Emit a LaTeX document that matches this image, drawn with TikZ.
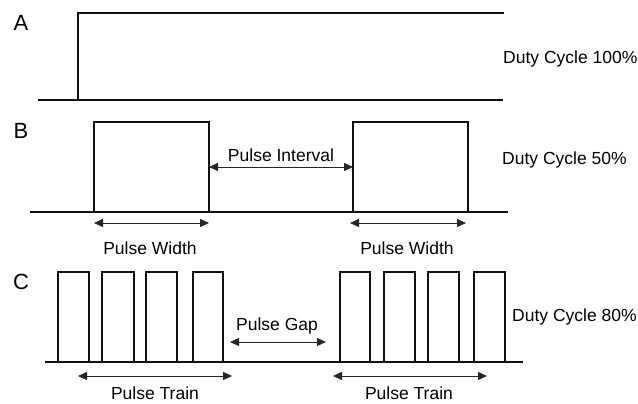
\documentclass[tikz,border=0pt]{standalone}
\usepackage{fontspec}
\setmainfont{Liberation Sans}
\usepackage{xcolor}
\definecolor{wave}{HTML}{111111}
\usetikzlibrary{arrows.meta, positioning, calc}

\begin{document}
\begin{tikzpicture}[x=1pt, y=-1pt, font=\fontsize{17.5}{20}\selectfont,
  base/.style={wave, line width=2.8pt},
  pulse/.style={wave, line width=1.4pt},
  span/.style={{Triangle[length=9pt,width=8pt]}-{Triangle[length=9pt,width=8pt]}, black!85, line width=0.8pt},
  tag/.style={font=\fontsize{22}{24}\selectfont, inner sep=0pt},
  duty/.style={anchor=west, inner sep=0pt},
  below label/.style={anchor=base, inner sep=0pt}]
  \useasboundingbox (0,0) rectangle (638,404);

  % A: always on
  \node[tag] (A) at (21,23) {A};
  \draw[base] (38,100) -- (503,100);
  \draw[pulse] (78,100) -- (78,13) -- (504,13);
  \node[duty] (dutyA) at (503,59) {Duty Cycle 100\%};

  % B: two wide pulses
  \node[tag] (B) at (21,131) {B};
  \draw[base] (30,212) -- (508,212);
  \foreach \l/\r in {94/209, 353/468}
    \draw[pulse] (\l,212) -- (\l,122) -- (\r,122) -- (\r,212);
  \node[duty] (dutyB) at (502,160) {Duty Cycle 50\%};
  \coordinate (b1r) at (209,167);
  \coordinate (b2l) at (353,167);
  \draw[span] (b1r) -- (b2l);
  \node (interval) at (281,155) {Pulse Interval};
  \coordinate (w1l) at (94,223);
  \coordinate (w1r) at (209,223);
  \coordinate (w2l) at (350,223);
  \coordinate (w2r) at (466,223);
  \draw[span] (w1l) -- (w1r);
  \draw[span] (w2l) -- (w2r);
  \node (width1) at (150,248) {Pulse Width};
  \node (width2) at (407,248) {Pulse Width};

  % C: two trains of narrow pulses
  \node[tag] (C) at (21,282) {C};
  \draw[base] (45,362) -- (523,362);
  \foreach \l/\r in {58/89, 102/134, 146/177, 193/223, 340/370, 384/415, 428/459, 474/505}
    \draw[pulse] (\l,362) -- (\l,272) -- (\r,272) -- (\r,362);
  \node[duty] (dutyC) at (512,317) {Duty Cycle 80\%};
  \coordinate (g1) at (230,342);
  \coordinate (g2) at (326,342);
  \draw[span] (g1) -- (g2);
  \node (gap) at (277,326) {Pulse Gap};
  \coordinate (t1l) at (78,376);
  \coordinate (t1r) at (232,376);
  \coordinate (t2l) at (333,376);
  \coordinate (t2r) at (487,376);
  \draw[span] (t1l) -- (t1r);
  \draw[span] (t2l) -- (t2r);
  \node[below label] (train1) at (155,399) {Pulse Train};
  \node[below label] (train2) at (409,399) {Pulse Train};
\end{tikzpicture}
\end{document}
